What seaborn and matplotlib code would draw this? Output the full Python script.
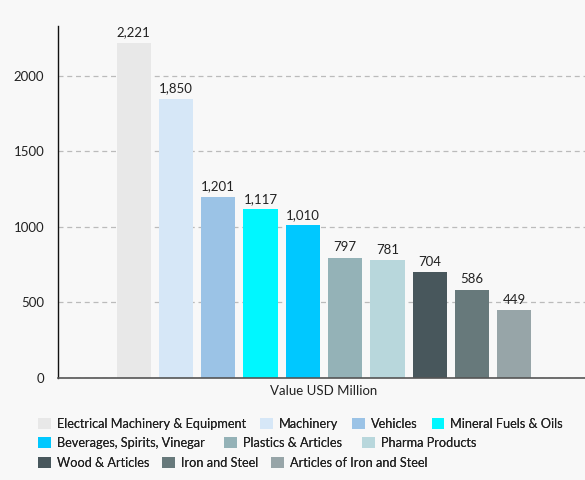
import matplotlib
matplotlib.use("Agg")
import matplotlib.pyplot as plt
import seaborn as sns
import pandas as pd
from matplotlib.patches import Patch

# data
categories = [
    "Electrical Machinery & Equipment",
    "Machinery",
    "Vehicles",
    "Mineral Fuels & Oils",
    "Beverages, Spirits, Vinegar",
    "Plastics & Articles",
    "Pharma Products",
    "Wood & Articles",
    "Iron and Steel",
    "Articles of Iron and Steel",
]
values = [2221, 1850, 1201, 1117, 1010, 797, 781, 704, 586, 449]
colors = ["#e8e8e8", "#d6e7f7", "#9bc3e6", "#00f7ff", "#00c8ff",
          "#94b2b7", "#b8d7dc", "#48575c", "#67797b", "#97a5a8"]
group_label = "Value USD Million"

df = pd.DataFrame({"group": [group_label] * len(categories),
                   "category": categories,
                   "value": values})

sns.set_theme(style="white")
plt.rcParams["font.family"] = ["Lato", "DejaVu Sans"]
bg = "#f8f8f8"

fig = plt.figure(figsize=(5.85, 4.8), dpi=100, facecolor=bg)
ax = fig.add_axes([58 / 585, 102 / 480, 532 / 585, 352 / 480])
ax.set_facecolor(bg)

sns.barplot(data=df, x="group", y="value", hue="category", hue_order=categories,
            palette=colors, width=0.795, gap=0.19, ax=ax, legend=False,
            saturation=1, linewidth=0)

for cont in ax.containers:
    ax.bar_label(cont, labels=[f"{v:,.0f}" for v in cont.datavalues],
                 padding=3, fontsize=9.5, color="#222222")

ax.set_ylim(0, 2331)
ax.set_xlim(-0.5, 0.5)
ax.set_yticks([0, 500, 1000, 1500, 2000])
ax.yaxis.grid(True, linestyle=(0, (4, 3)), color="#bbbbbb", linewidth=0.9)
ax.set_axisbelow(True)
ax.tick_params(axis="both", length=0, labelsize=9.5, colors="#222222")
ax.tick_params(axis="y", pad=10)
ax.tick_params(axis="x", pad=5)
ax.set_xlabel("")
ax.set_ylabel("")
for s in ["top", "right"]:
    ax.spines[s].set_visible(False)
ax.spines["left"].set_color("#111111")
ax.spines["left"].set_linewidth(1)
ax.spines["bottom"].set_color("#555555")
ax.spines["bottom"].set_linewidth(1.2)

# flowed legend, one row per legend box
rows = [range(0, 4), range(4, 7), range(7, 10)]
row_y = [424, 443, 463]
row_gap = [1.1, 1.55, 1.0]
for idx, y, cs in zip(rows, row_y, row_gap):
    handles = [Patch(facecolor=colors[i], edgecolor="none", label=categories[i]) for i in idx]
    leg = fig.legend(handles=handles, ncol=len(handles), loc="center left",
                     bbox_to_anchor=(38 / 585, 1 - y / 480), frameon=False,
                     fontsize=9.2, handlelength=1.0, handleheight=1.0,
                     handletextpad=0.47, columnspacing=cs, borderaxespad=0,
                     borderpad=0)
    for t in leg.get_texts():
        t.set_color("#222222")
    fig.add_artist(leg)

fig.savefig("out.png", dpi=100, facecolor=bg)
